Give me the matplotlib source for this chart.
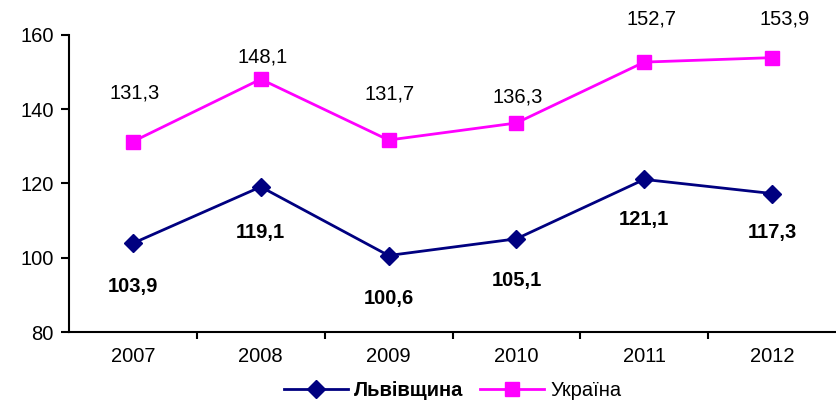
import matplotlib.pyplot as plt

plt.rcParams['font.family'] = ['Liberation Sans', 'DejaVu Sans']

# data
years = ['2007', '2008', '2009', '2010', '2011', '2012']
lviv = [103.9, 119.1, 100.6, 105.1, 121.1, 117.3]
ukraine = [131.3, 148.1, 131.7, 136.3, 152.7, 153.9]
lviv_labels = ['103,9', '119,1', '100,6', '105,1', '121,1', '117,3']
ukr_labels = ['131,3', '148,1', '131,7', '136,3', '152,7', '153,9']

# label offsets in points (hand placed like in the original)
ukr_off = [(1, 35), (1, 16), (1, 33), (1, 19), (5, 31), (9, 28)]
lviv_off = [(0, -31), (0, -33), (0, -31), (0, -30), (0, -29), (0, -28)]

fs = 14.5

fig = plt.figure(figsize=(8.36, 4.03), dpi=100)
ax = fig.add_axes([69 / 836, 71 / 403, 767 / 836, 297 / 403])

x = range(len(years))
ax.plot(x, lviv, color='#000080', lw=2, marker='D', ms=9, label='Львівщина')
ax.plot(x, ukraine, color='#FF00FF', lw=2, marker='s', ms=10, label='Україна')

for i in x:
    ax.annotate(ukr_labels[i], (i, ukraine[i]), xytext=ukr_off[i], textcoords='offset points',
                ha='center', va='center', fontsize=fs)
    ax.annotate(lviv_labels[i], (i, lviv[i]), xytext=lviv_off[i], textcoords='offset points',
                ha='center', va='center', fontsize=fs, fontweight='bold')

ax.set_xlim(-0.5, len(years) - 0.5)
ax.set_ylim(80, 160)
ax.set_yticks([80, 100, 120, 140, 160])
ax.set_xticks([i - 0.5 for i in range(1, len(years))])
ax.set_xticklabels([])
ax.set_xticks(list(x), minor=True)
ax.set_xticklabels(years, minor=True)
ax.tick_params(axis='x', which='minor', length=0, pad=11, labelsize=fs)
ax.tick_params(axis='x', which='major', length=5, width=1.5)
ax.tick_params(axis='y', length=6, width=1.5, labelsize=fs, pad=5)

for s in ['top', 'right']:
    ax.spines[s].set_visible(False)
for s in ['left', 'bottom']:
    ax.spines[s].set_linewidth(1.5)

leg = ax.legend(loc='lower center', bbox_to_anchor=(0.5, -0.29), ncol=2, frameon=False,
                fontsize=fs, handlelength=3.2, columnspacing=0.8, handletextpad=0.3)
leg.get_texts()[0].set_fontweight('bold')

fig.savefig('out.png', dpi=100)
